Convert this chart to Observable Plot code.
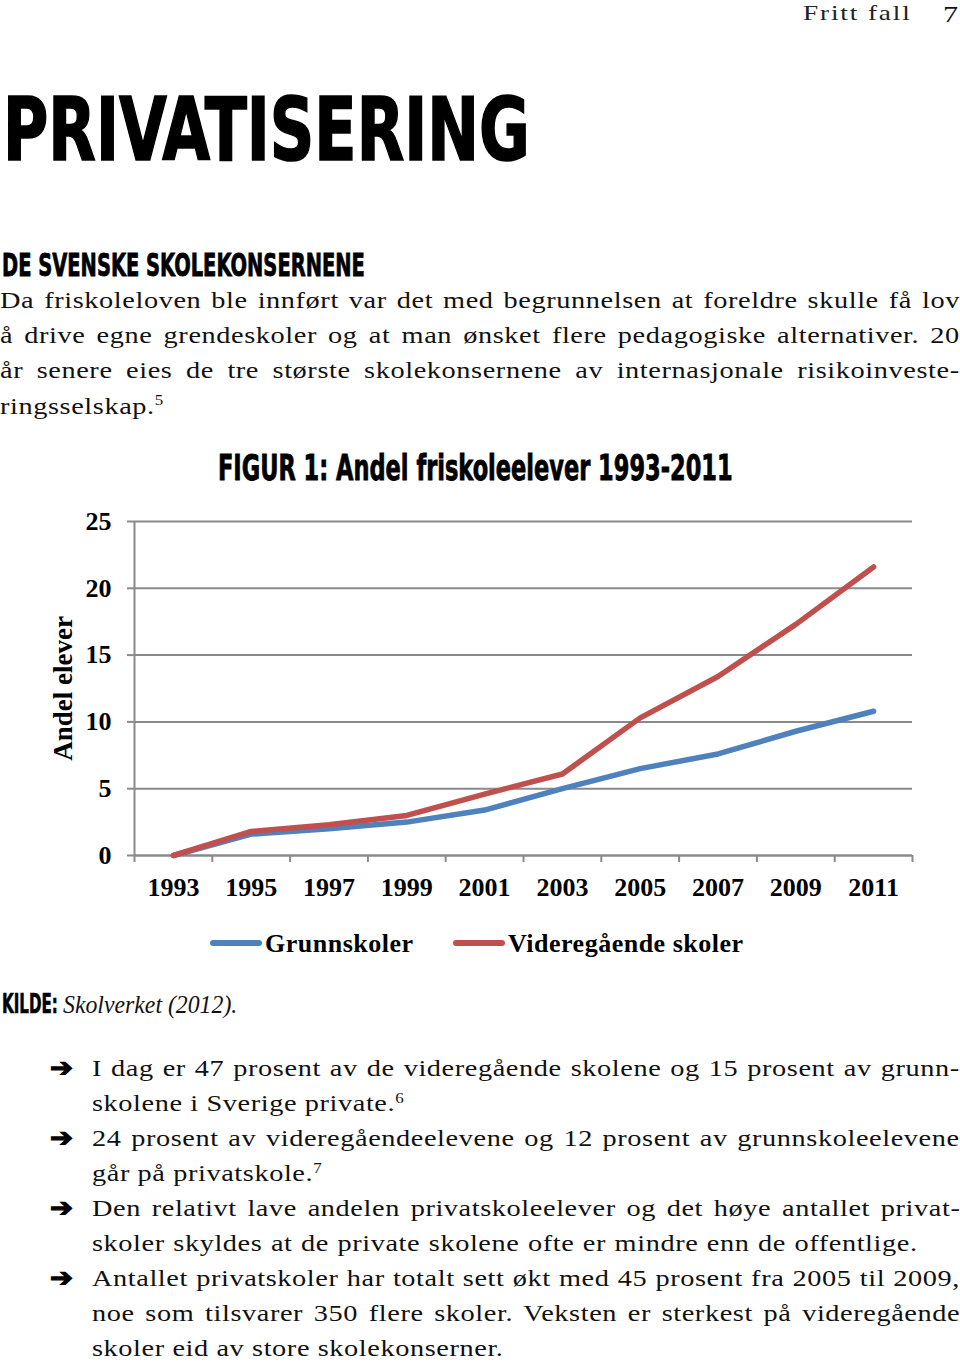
<!DOCTYPE html>
<html>
<head>
<meta charset="utf-8">
<script src="https://cdn.jsdelivr.net/npm/d3@7"></script>
<script src="https://cdn.jsdelivr.net/npm/@observablehq/plot@0.6"></script>
<style>
  html, body { margin: 0; padding: 0; background: #fff; }
  #page { position: relative; width: 960px; height: 1362px; overflow: hidden; background: #fff; color: #111; }
  .t { position: absolute; white-space: nowrap; line-height: 1; transform-origin: 0 0; }
  .serif { font-family: "Liberation Serif", "Times New Roman", serif; }
  .heavy { font-family: "Liberation Sans Narrow", "Arial Narrow", "DejaVu Sans Condensed", "Liberation Sans", sans-serif; font-weight: 700; color: #000; }
  .bold { font-weight: 700; }
  .ital { font-style: italic; }
  .arrow { font-family: "DejaVu Sans", sans-serif; font-weight: 700; -webkit-text-stroke: 1.2px #000; color: #000; }
  sup { font-size: 0.6em; vertical-align: baseline; position: relative; top: -0.6em; line-height: 0; letter-spacing: 0; }
  #chart { position: absolute; left: 0; top: 490px; }
  .sw { position: absolute; height: 6px; border-radius: 3px; }
</style>
</head>
<body>
<div id="page"></div>
<script>
// ---------- chart data ----------
const years = [1993, 1995, 1997, 1999, 2001, 2003, 2005, 2007, 2009, 2011];
const grunnskoler = [0, 1.6, 2.0, 2.5, 3.4, 5.0, 6.5, 7.6, 9.3, 10.8];
const videregaende = [0, 1.8, 2.3, 3.0, 4.6, 6.1, 10.3, 13.4, 17.3, 21.6];
const seriesNames = ["Grunnskoler", "Videregående skoler"];
const seriesColors = ["#4F81BD", "#C0504D"];
const yTicks = [0, 5, 10, 15, 20, 25];
const xTickLabels = [1993, 1995, 1997, 1999, 2001, 2003, 2005, 2007, 2009, 2011];
const categoryEdges = [1992, 1994, 1996, 1998, 2000, 2002, 2004, 2006, 2008, 2010, 2012];
const yLabel = "Andel elever";
const figTitle = "FIGUR 1: Andel friskoleelever 1993-2011";

const rows = [
  ...years.map((year, i) => ({year, value: grunnskoler[i], serie: seriesNames[0]})),
  ...years.map((year, i) => ({year, value: videregaende[i], serie: seriesNames[1]}))
];

const page = document.getElementById("page");
const gray = "#8a8a8a";

const chart = Plot.plot({
  width: 960,
  height: 420,
  marginLeft: 134,
  marginRight: 48,
  marginTop: 31,
  marginBottom: 55,
  style: {fontFamily: "'Liberation Serif', 'Times New Roman', serif", fontSize: "26px", fontWeight: "bold", color: "#000", background: "transparent", overflow: "visible"},
  x: {type: "linear", domain: [1992, 2012], label: null},
  y: {domain: [0, 25], label: null},
  color: {domain: seriesNames, range: seriesColors},
  marks: [
    Plot.gridY(yTicks, {stroke: gray, strokeOpacity: 1, strokeWidth: 2}),
    Plot.axisY(yTicks, {tickSize: 7, tickPadding: 16, stroke: gray, strokeWidth: 2, tickFormat: d => String(d), letterSpacing: 1}),
    Plot.ruleX([1992], {stroke: gray, strokeWidth: 2}),
    Plot.ruleY([0], {stroke: gray, strokeWidth: 2}),
    Plot.axisX(categoryEdges, {tickSize: 7, stroke: gray, strokeWidth: 2, tickFormat: () => ""}),
    Plot.axisX(xTickLabels, {tickSize: 0, tickPadding: 22, tickFormat: d => String(d), letterSpacing: 2}),
    Plot.line(rows, {x: "year", y: "value", z: "serie", stroke: "serie", strokeWidth: 5.5}),
    Plot.text([yLabel], {frameAnchor: "left", dx: -71, rotate: -90, textAnchor: "middle", lineAnchor: "middle", fontSize: 27, fill: "#000", letterSpacing: 0.5})
  ]
});
chart.id = "chart";
page.appendChild(chart);

// ---------- page text ----------
function put(html, o) {
  const d = document.createElement("div");
  d.className = "t " + (o.cls || "");
  d.innerHTML = html;
  d.style.fontSize = o.size + "px";
  d.style.left = o.x + "px";
  d.style.top = (o.base - 0.84 * o.size) + "px";
  if (o.ls != null) d.style.letterSpacing = o.ls + "px";
  if (o.stroke) d.style.webkitTextStroke = o.stroke + "px #000";
  if (o.color) d.style.color = o.color;
  page.appendChild(d);
  const w = d.offsetWidth;
  let sx = o.sx || 1;
  if (o.w) sx = o.w / w;
  if (o.right) {
    const target = (o.right - o.x) / sx;
    const n = (d.textContent.match(/ /g) || []).length;
    if (n) d.style.wordSpacing = ((target - w) / n) + "px";
  }
  if (sx !== 1) d.style.transform = `scaleX(${sx})`;
  return d;
}

// header
put("Fritt fall", {x: 803, base: 20, size: 22, cls: "serif", ls: 1.5, w: 109, color: "#222"});
put("7", {x: 943, base: 22, size: 24, cls: "serif", w: 15});

// headings
put("PRIVATISERING", {x: 3, base: 160, size: 87, cls: "heavy", w: 527, stroke: 1.6});
put("DE SVENSKE SKOLEKONSERNENE", {x: 2, base: 276, size: 32, cls: "heavy", w: 363, stroke: 0.8});
put(figTitle, {x: 218, base: 480, size: 35, cls: "heavy", w: 515, stroke: 0.8});

// body paragraph
const bodyOpt = {size: 24, ls: 0.5, sx: 1.18, cls: "serif"};
const para = [
  ["Da friskoleloven ble innført var det med begrunnelsen at foreldre skulle få lov", true],
  ["å drive egne grendeskoler og at man ønsket flere pedagogiske alternativer. 20", true],
  ["år senere eies de tre største skolekonsernene av internasjonale risikoinveste-", true],
  ["ringsselskap.<sup>5</sup>", false]
];
para.forEach(([txt, just], i) => {
  put(txt, Object.assign({}, bodyOpt, {x: 0, base: 308 + i * 35.3, right: just ? 960 : null}));
});

// legend (below chart)
const legendItems = [
  {name: seriesNames[0], color: seriesColors[0], sx: 210, tx: 265},
  {name: seriesNames[1], color: seriesColors[1], sx: 453, tx: 508}
];
legendItems.forEach(it => {
  const s = document.createElement("div");
  s.className = "sw";
  s.style.left = it.sx + "px";
  s.style.top = "940px";
  s.style.width = "52px";
  s.style.background = it.color;
  page.appendChild(s);
  put(it.name, {x: it.tx, base: 953, size: 26, cls: "serif bold", ls: 0.5, color: "#000"});
});

// source
put("KILDE:", {x: 2, base: 1013, size: 27, cls: "heavy", w: 56, stroke: 0.6});
put("Skolverket (2012).", {x: 63, base: 1013, size: 25, cls: "serif ital", w: 174});

// bullets
const bullets = [
  ["I dag er 47 prosent av de videregående skolene og 15 prosent av grunn-", 960, true],
  ["skolene i Sverige private.<sup>6</sup>", null, false],
  ["24 prosent av videregåendeelevene og 12 prosent av grunnskoleelevene", 960, true],
  ["går på privatskole.<sup>7</sup>", null, false],
  ["Den relativt lave andelen privatskoleelever og det høye antallet privat-", 960, true],
  ["skoler skyldes at de private skolene ofte er mindre enn de offentlige.", 918, false],
  ["Antallet privatskoler har totalt sett økt med 45 prosent fra 2005 til 2009,", 960, true],
  ["noe som tilsvarer 350 flere skoler. Veksten er sterkest på videregående", 960, false],
  ["skoler eid av store skolekonserner.", null, false]
];
bullets.forEach(([txt, right, arrow], i) => {
  const base = 1076.5 + i * 35.0;
  put(txt, Object.assign({}, bodyOpt, {x: 92, base, right}));
  if (arrow) put("➔", {x: 50, base: base - 1, size: 25, cls: "arrow", w: 23});
});
</script>
</body>
</html>
